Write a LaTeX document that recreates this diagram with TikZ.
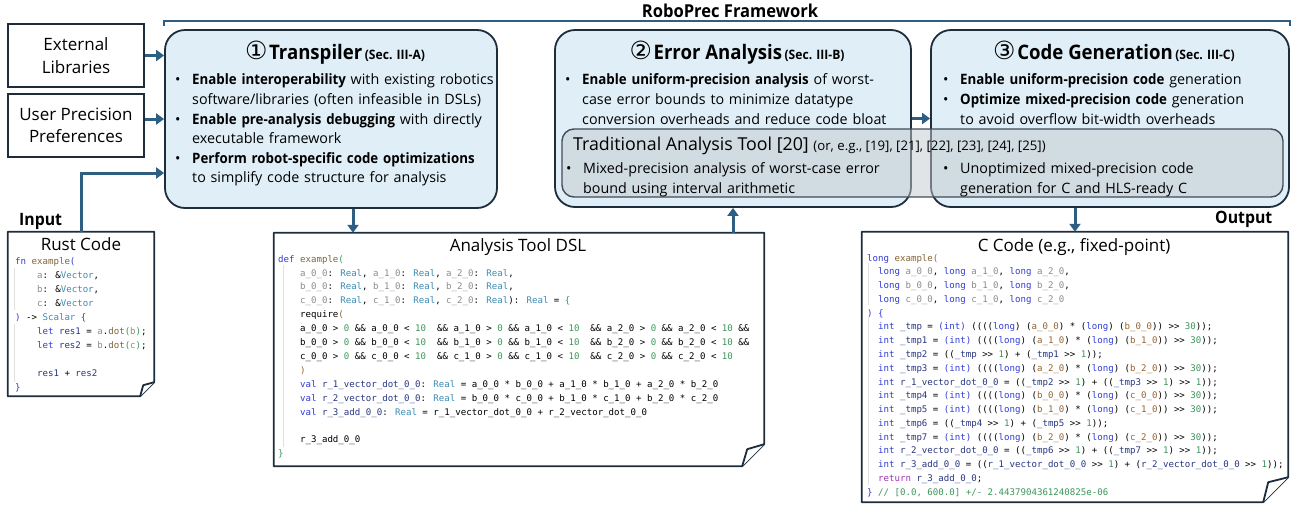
\documentclass[tikz,border=0pt]{standalone}
\usepackage{fontspec}
\setmainfont{Open Sans}[BoldFeatures={FakeStretch=0.93}]
\newfontfamily\codefont{DejaVu Sans Mono}
\newfontfamily\symfont{DejaVu Sans}
\usetikzlibrary{arrows.meta, positioning, calc}

\definecolor{edge}{RGB}{30,45,60}
\definecolor{flowc}{RGB}{46,94,130}
\definecolor{stagefill}{RGB}{223,238,247}
\definecolor{legacyfill}{RGB}{196,202,206}
\definecolor{keycol}{RGB}{50,60,215}
\definecolor{funcol}{RGB}{130,100,55}
\definecolor{typecol}{RGB}{60,140,180}
\definecolor{parcol}{RGB}{140,140,140}
\definecolor{numcol}{RGB}{60,150,90}
\definecolor{varcol}{RGB}{40,55,130}
\definecolor{retcol}{RGB}{160,50,180}
\definecolor{brkcol}{RGB}{150,100,50}

% code colouring
\newcommand\ckey[1]{\textcolor{keycol}{#1}}
\newcommand\cfun[1]{\textcolor{funcol}{#1}}
\newcommand\ctype[1]{\textcolor{typecol}{#1}}
\newcommand\cpar[1]{\textcolor{parcol}{#1}}
\newcommand\cnum[1]{\textcolor{numcol}{#1}}
\newcommand\cvar[1]{\textcolor{varcol}{#1}}
\newcommand\cret[1]{\textcolor{retcol}{#1}}
\newcommand\cbrk[1]{\textcolor{brkcol}{#1}}
\newcommand\shr{>\kern0pt>}
\newcommand\ind[1]{\hspace*{\fpeval{#1*0.602}em}}
% DSL helpers
\newcommand\prm[1]{\cpar{#1\_0\_0}: \ctype{Real}, \cpar{#1\_1\_0}: \ctype{Real}, \cpar{#1\_2\_0}: \ctype{Real}}
\newcommand\req[2]{#1\_0\_0 > \cnum{0} \&\& #1\_0\_0 < \cnum{10}~~\&\& #1\_1\_0 > \cnum{0} \&\& #1\_1\_0 < \cnum{10}~~\&\& #1\_2\_0 > \cnum{0} \&\& #1\_2\_0 < \cnum{10}#2}
% C helper
\newcommand\mul[3]{\ckey{int} \cvar{#1} = \ckey{(int)} ((((\ckey{long}) (\cbrk{#2}) * (\ckey{long}) (\cbrk{#3})) \shr{} \cnum{30}));}
% bullets and titles
\newcommand\bul[1]{\par\noindent\hangindent=17pt\hangafter=1\makebox[17pt][l]{\textbullet}#1\par}
\newcommand\stagetitle[3]{{\symfont\fontsize{25}{21}\selectfont #1}\,{\bfseries\fontsize{20}{20}\selectfont #2} {\bfseries\fontsize{13}{14}\selectfont (#3)}}

\begin{document}
\begin{tikzpicture}[x=1pt, y=-1pt,
                    stage/.style={draw=edge, line width=1.8pt, fill=stagefill, rounded corners=20pt},
                    legacy/.style={draw=edge!85, line width=1.4pt, fill=legacyfill, fill opacity=.5, rounded corners=12pt},
                    srcbox/.style={draw=edge, line width=1.8pt, align=center, inner sep=0pt,
                                   minimum width=136, minimum height=63, font=\fontsize{17}{22.5}\selectfont},
                    note/.style={inner sep=0pt},
                    paper/.style={draw=edge, line width=1.8pt, fill=white, line join=round},
                    guide/.style={draw=black!12, line width=.6pt},
                    flow/.style={draw=flowc, line width=3pt, -{Triangle[width=11pt,length=8pt]}},
                    bracket/.style={draw=flowc, line width=1.3pt},
                    title/.style={anchor=base, inner sep=0pt},
                    tag/.style={anchor=base west, inner sep=0pt, font=\bfseries\fontsize{17}{18}\selectfont},
                    caption/.style={anchor=base, inner sep=0pt, font=\fontsize{17}{20}\selectfont},
                    points/.style={anchor=north west, inner sep=0pt, text width=420pt, align=left,
                                   font=\fontsize{14.3}{19.6}\selectfont},
                    code/.style={anchor=north west, inner sep=0pt, align=left,
                                 font=\codefont\fontsize{9.1}{13.8}\selectfont}]
  \useasboundingbox (0,0) rectangle (1292,504);

  % framework stages
  \node[stage, minimum width=332, minimum height=178] (tp) at (331,119) {};
  \node[stage, minimum width=356, minimum height=177] (err) at (733,118.5) {};
  \node[stage, minimum width=358, minimum height=177] (cg) at (1110,118.5) {};
  \node[legacy, minimum width=721, minimum height=68] (trad) at (922.5,163) {};

  \node[title] (tptitle) at (335,59) {\stagetitle{①}{Transpiler}{Sec. III-A}};
  \node[title] (errtitle) at (737,59) {\stagetitle{②}{Error Analysis}{Sec. III-B}};
  \node[title] (cgtitle) at (1114,59) {\stagetitle{③}{Code Generation}{Sec. III-C}};

  \node[points] (tppoints) at (175,65) {%
    \bul{\textbf{Enable interoperability} with existing robotics\newline software/libraries (often infeasible in DSLs)}
    \bul{\textbf{Enable pre-analysis debugging} with directly\newline executable framework}
    \bul{\textbf{Perform robot-specific code optimizations}\newline to simplify code structure for analysis}};
  \node[points] (errpoints) at (565,65) {%
    \bul{\textbf{Enable uniform-precision analysis} of worst-\newline case error bounds to minimize datatype\newline conversion overheads and reduce code bloat}};
  \node[points] (cgpoints) at (943,65) {%
    \bul{\textbf{Enable uniform-precision code} generation}
    \bul{\textbf{Optimize mixed-precision code} generation\newline to avoid overflow bit-width overheads}};

  \node[anchor=base west, inner sep=0pt, font=\fontsize{17.8}{20}\selectfont] (tradtitle) at (573,150)
    {Traditional Analysis Tool [20] {\fontsize{13.2}{15}\selectfont (or, e.g., [19], [21], [22], [23], [24], [25])}};
  \node[points] (tradleft) at (566,154) {%
    \bul{Mixed-precision analysis of worst-case error\newline bound using interval arithmetic}};
  \node[points] (tradright) at (943,154) {%
    \bul{Unoptimized mixed-precision code\newline generation for C and HLS-ready C}};

  % framework bracket
  \draw[bracket] ([yshift=3]tp.north west) |- ([yshift=8]cg.north east) -- ([yshift=3]cg.north east);
  \node[title, font=\bfseries\fontsize{17.8}{18}\selectfont] (frame) at (730,17) {RoboPrec Framework};

  % user inputs
  \node[srcbox] (ext) at (76,55.5) {External\\Libraries};
  \node[srcbox] (user) at (76,125.5) {User Precision\\Preferences};

  % source / intermediate / generated code
  \node[note, minimum width=146, minimum height=164] (rust) at (81,314) {};
  \draw[paper] (rust.north west) -- (rust.north east) -- ([yshift=14]rust.south east)
    -- ([xshift=-14]rust.south east) -- (rust.south west) -- cycle;
  \draw[paper] ([yshift=14]rust.south east) -- ([xshift=-11,yshift=11]rust.south east) -- ([xshift=-14]rust.south east);

  \node[note, minimum width=490, minimum height=233] (dsl) at (519,349.5) {};
  \draw[paper] (dsl.north west) -- (dsl.north east) -- ([yshift=22]dsl.south east)
    -- ([xshift=-22]dsl.south east) -- (dsl.south west) -- cycle;
  \draw[paper] ([yshift=22]dsl.south east) -- ([xshift=-17,yshift=17]dsl.south east) -- ([xshift=-22]dsl.south east);

  \node[note, minimum width=426, minimum height=270] (ccode) at (1075,367) {};
  \draw[paper] (ccode.north west) -- (ccode.north east) -- ([yshift=25]ccode.south east)
    -- ([xshift=-25]ccode.south east) -- (ccode.south west) -- cycle;
  \draw[paper] ([yshift=25]ccode.south east) -- ([xshift=-20,yshift=20]ccode.south east) -- ([xshift=-25]ccode.south east);

  \node[caption] (rustcap) at (81,250) {Rust Code};
  \node[caption] (dslcap) at (518,251) {Analysis Tool DSL};
  \node[caption] (ccap) at (1074,251) {C Code (e.g., fixed-point)};

  \draw[guide] (14,268) -- (14,310) (14,324) -- (14,382);
  \draw[guide] (283,265) -- (283,447);
  \draw[guide] (868,263) -- (868,305) (868,318) -- (868,485);

  \node[code, font=\codefont\fontsize{9.1}{14}\selectfont] (rustsrc) at (15,257) {%
    \ckey{fn} \cfun{example}\ckey{(}\\
    \ind{4}\cpar{a}: \&\ctype{Vector},\\
    \ind{4}\cpar{b}: \&\ctype{Vector},\\
    \ind{4}\cpar{c}: \&\ctype{Vector}\\
    \ckey{)} -> \ctype{Scalar} \ckey{\{}\\
    \ind{4}\ckey{let} \cvar{res1} = \cpar{a}.\cfun{dot}\cnum{(}\cpar{b}\cnum{)};\\
    \ind{4}\ckey{let} \cvar{res2} = \cpar{b}.\cfun{dot}\cnum{(}\cpar{c}\cnum{)};\\
    \mbox{}\\
    \ind{4}\cvar{res1} + \cvar{res2}\\
    \ckey{\}}};

  \node[code, font=\codefont\fontsize{9.1}{13.9}\selectfont] (dslsrc) at (278,255) {%
    \ckey{def} \cfun{example}\cnum{(}\\
    \ind{4}\prm{a},\\
    \ind{4}\prm{b},\\
    \ind{4}\prm{c}): \ctype{Real} = \cnum{\{}\\
    \ind{4}require\cbrk{(}\\
    \ind{4}\req{a}{ \&\&}\\
    \ind{4}\req{b}{ \&\&}\\
    \ind{4}\req{c}{}\\
    \ind{4}\cbrk{)}\\
    \ind{4}\ckey{val} \cvar{r\_1\_vector\_dot\_0\_0}: \ctype{Real} = a\_0\_0 * b\_0\_0 + a\_1\_0 * b\_1\_0 + a\_2\_0 * b\_2\_0\\
    \ind{4}\ckey{val} \cvar{r\_2\_vector\_dot\_0\_0}: \ctype{Real} = b\_0\_0 * c\_0\_0 + b\_1\_0 * c\_1\_0 + b\_2\_0 * c\_2\_0\\
    \ind{4}\ckey{val} \cvar{r\_3\_add\_0\_0}: \ctype{Real} = r\_1\_vector\_dot\_0\_0 + r\_2\_vector\_dot\_0\_0\\
    \mbox{}\\
    \ind{4}r\_3\_add\_0\_0\\
    \cnum{\}}};

  \node[code, font=\codefont\fontsize{9.1}{13.76}\selectfont] (csrc) at (867,254) {%
    \ckey{long} \cfun{example}\cbrk{(}\\
    \ind{2}\ckey{long} \cpar{a\_0\_0}, \ckey{long} \cpar{a\_1\_0}, \ckey{long} \cpar{a\_2\_0},\\
    \ind{2}\ckey{long} \cpar{b\_0\_0}, \ckey{long} \cpar{b\_1\_0}, \ckey{long} \cpar{b\_2\_0},\\
    \ind{2}\ckey{long} \cpar{c\_0\_0}, \ckey{long} \cpar{c\_1\_0}, \ckey{long} \cpar{c\_2\_0}\\
    \ckey{) \{}\\
    \ind{2}\mul{\_tmp}{a\_0\_0}{b\_0\_0}\\
    \ind{2}\mul{\_tmp1}{a\_1\_0}{b\_1\_0}\\
    \ind{2}\ckey{int} \cvar{\_tmp2} = ((\cvar{\_tmp} \shr{} \cnum{1}) + (\cvar{\_tmp1} \shr{} \cnum{1}));\\
    \ind{2}\mul{\_tmp3}{a\_2\_0}{b\_2\_0}\\
    \ind{2}\ckey{int} \cvar{r\_1\_vector\_dot\_0\_0} = ((\cvar{\_tmp2} \shr{} \cnum{1}) + ((\cvar{\_tmp3} \shr{} \cnum{1}) \shr{} \cnum{1}));\\
    \ind{2}\mul{\_tmp4}{b\_0\_0}{c\_0\_0}\\
    \ind{2}\mul{\_tmp5}{b\_1\_0}{c\_1\_0}\\
    \ind{2}\ckey{int} \cvar{\_tmp6} = ((\cvar{\_tmp4} \shr{} \cnum{1}) + (\cvar{\_tmp5} \shr{} \cnum{1}));\\
    \ind{2}\mul{\_tmp7}{b\_2\_0}{c\_2\_0}\\
    \ind{2}\ckey{int} \cvar{r\_2\_vector\_dot\_0\_0} = ((\cvar{\_tmp6} \shr{} \cnum{1}) + ((\cvar{\_tmp7} \shr{} \cnum{1}) \shr{} \cnum{1}));\\
    \ind{2}\ckey{int} \cvar{r\_3\_add\_0\_0} = ((\cvar{r\_1\_vector\_dot\_0\_0} \shr{} \cnum{1}) + (\cvar{r\_2\_vector\_dot\_0\_0} \shr{} \cnum{1}));\\
    \ind{2}\cret{return} \cvar{r\_3\_add\_0\_0};\\
    \ckey{\}} \cnum{// [0.0, 600.0] +/- 2.4437904361240825e-06}};

  \node[tag] (input) at (19,225) {Input};
  \node[tag] (output) at (1215,223) {Output};

  % connectors
  \coordinate (inlet) at ([yshift=-54]tp.west);
  \draw[flow] (ext.east) -- (ext.east -| tp.west);
  \draw[flow] (user.east |- tp.west) -- (tp.west);
  \draw[flow] (rust.north) |- (inlet);
  \draw[flow] ([xshift=22]tp.south) -- ([xshift=22]tp.south |- dsl.north);
  \draw[flow] (dsl.north -| err.south) -- (err.south);
  \draw[flow] (err.east) -- (cg.west);
  \draw[flow] (cg.south -| ccode.north) -- (ccode.north);
\end{tikzpicture}
\end{document}
